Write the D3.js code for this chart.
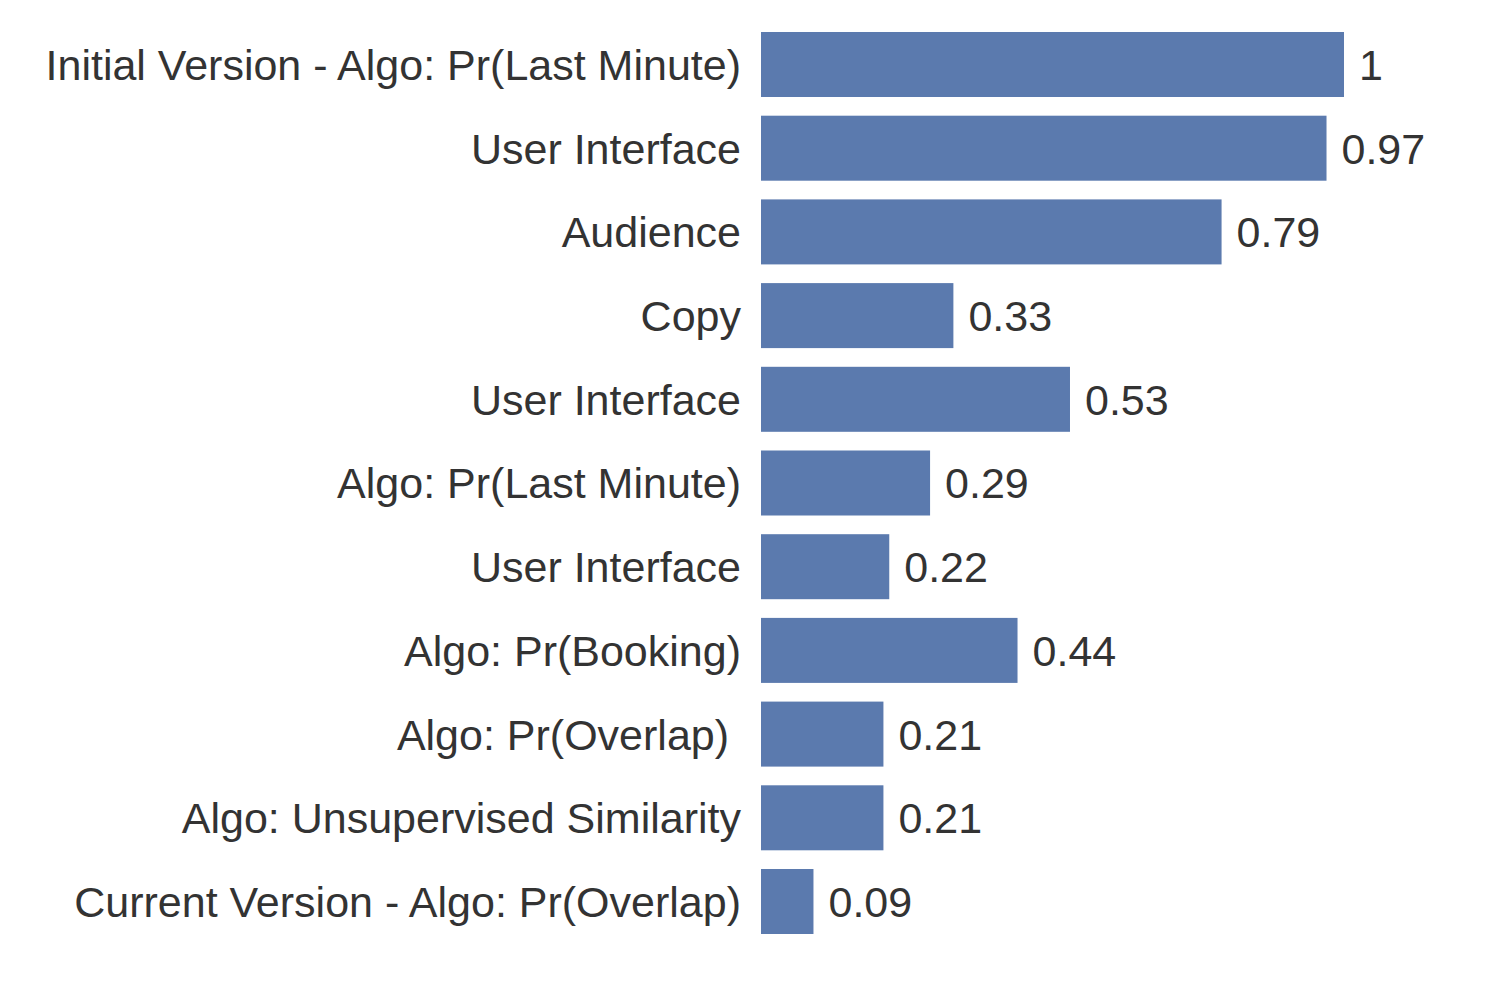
<!DOCTYPE html>
<html>
<head>
<meta charset="utf-8">
<script src="https://cdn.jsdelivr.net/npm/d3@7"></script>
<style>
  html, body { margin:0; padding:0; background:#fff; }
  svg text { font-family: "Liberation Sans", Arial, sans-serif; fill:#333; white-space:pre; }
</style>
</head>
<body>
<svg id="chart" width="1486" height="996"></svg>
<script>
// chart data, top to bottom
const labels = [
  'Initial Version - Algo: Pr(Last Minute)',
  'User Interface',
  'Audience',
  'Copy',
  'User Interface',
  'Algo: Pr(Last Minute)',
  'User Interface',
  'Algo: Pr(Booking)',
  'Algo: Pr(Overlap) ',
  'Algo: Unsupervised Similarity',
  'Current Version - Algo: Pr(Overlap)'
];
const values = [1, 0.97, 0.79, 0.33, 0.53, 0.29, 0.22, 0.44, 0.21, 0.21, 0.09];
const valueText = ['1', '0.97', '0.79', '0.33', '0.53', '0.29', '0.22', '0.44', '0.21', '0.21', '0.09'];

const svg = d3.select('#chart');
const plotLeft = 761, plotRight = 1344, plotTop = 32, plotBottom = 934;
const idx = d3.range(labels.length);

const x = d3.scaleLinear().domain([0, 1]).range([plotLeft, plotRight]);
const y = d3.scaleBand().domain(idx).range([plotTop, plotBottom]).paddingInner(0.2234).paddingOuter(0);

// bars
svg.append('g').selectAll('rect').data(idx).enter().append('rect')
  .attr('x', x(0))
  .attr('y', i => y(i))
  .attr('width', i => x(values[i]) - x(0))
  .attr('height', y.bandwidth())
  .attr('fill', '#5b7aae');

// category labels
svg.append('g').selectAll('text').data(idx).enter().append('text')
  .attr('x', x(0) - 20)
  .attr('y', i => y(i) + y.bandwidth() / 2)
  .attr('dy', '0.36em')
  .attr('text-anchor', 'end')
  .style('font-size', '43px')
  .text(i => labels[i]);

// value labels
svg.append('g').selectAll('text').data(idx).enter().append('text')
  .attr('x', i => x(values[i]) + 15)
  .attr('y', i => y(i) + y.bandwidth() / 2)
  .attr('dy', '0.36em')
  .style('font-size', '43px')
  .text(i => valueText[i]);
</script>
</body>
</html>
